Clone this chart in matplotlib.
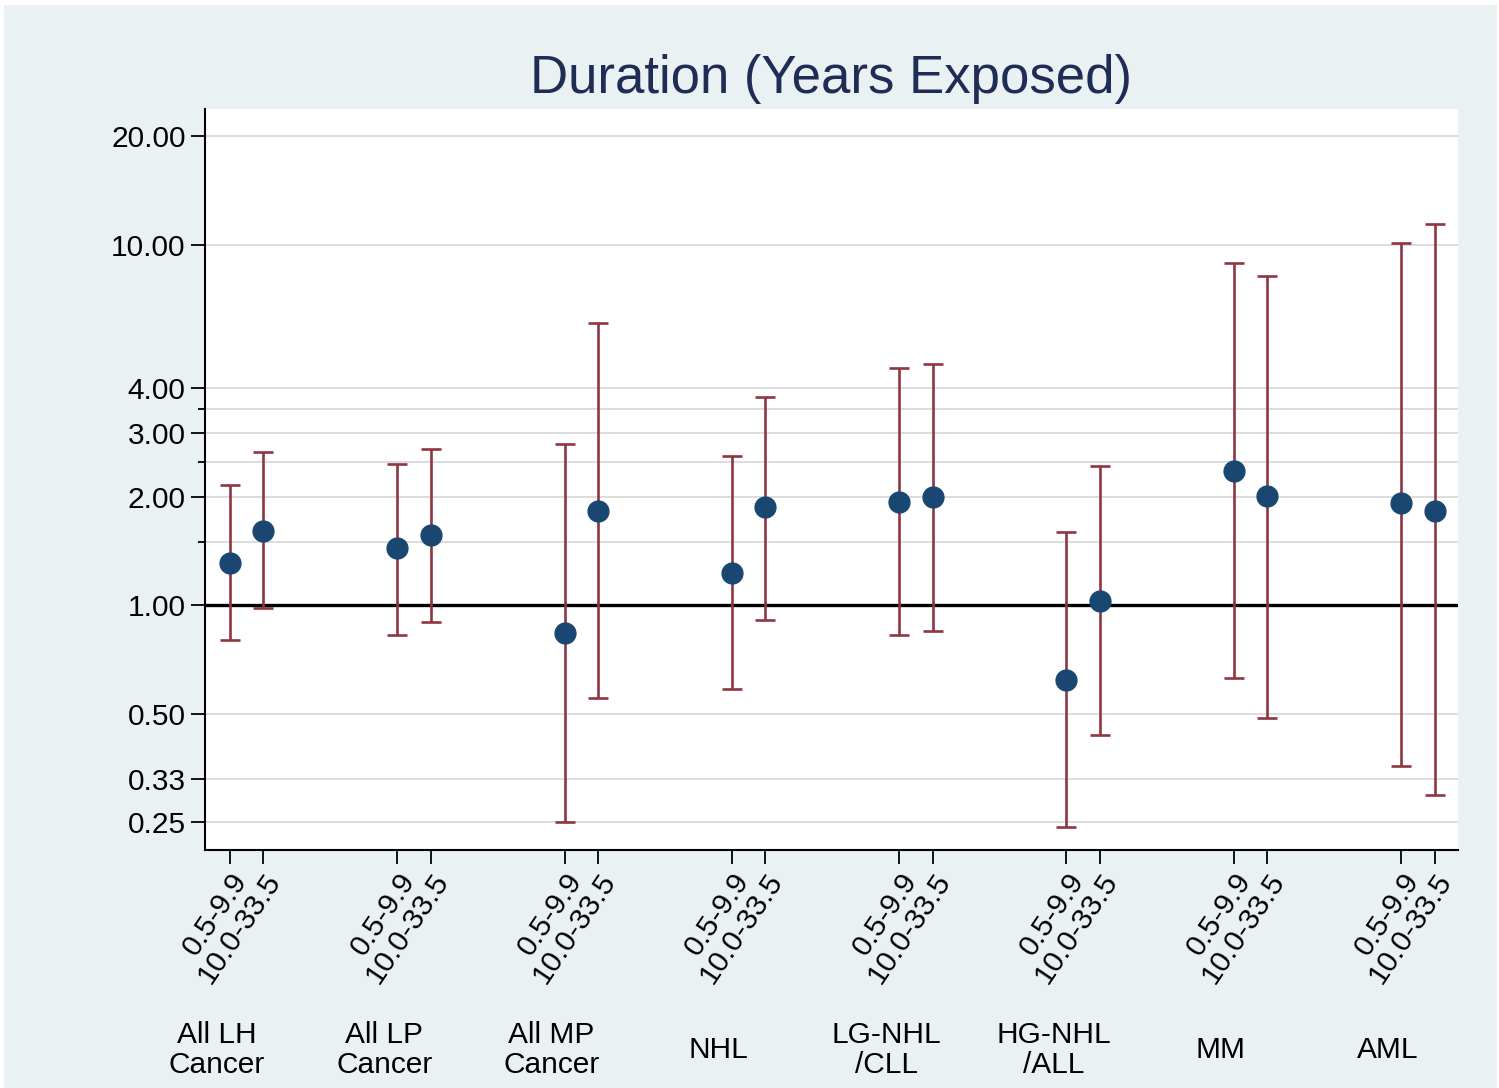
import numpy as np
import matplotlib
matplotlib.use("Agg")
import matplotlib.pyplot as plt
from matplotlib.ticker import FixedLocator, NullFormatter
from matplotlib.transforms import blended_transform_factory

# Outcome groups and exposure-duration categories
groups = ["All LH\nCancer", "All LP\nCancer", "All MP\nCancer", "NHL",
          "LG-NHL\n/CLL", "HG-NHL\n/ALL", "MM", "AML"]
durations = ["0.5-9.9", "10.0-33.5"]

# Relative risk estimates with 95% CI, first duration category
rr_short = [1.31, 1.44, 0.84, 1.23, 1.94, 0.62, 2.36, 1.92]
lo_short = [0.80, 0.83, 0.25, 0.586, 0.826, 0.243, 0.63, 0.359]
hi_short = [2.15, 2.46, 2.81, 2.59, 4.56, 1.60, 8.90, 10.10]

# Second duration category
rr_long = [1.61, 1.57, 1.83, 1.87, 2.00, 1.03, 2.01, 1.83]
lo_long = [0.98, 0.90, 0.553, 0.913, 0.847, 0.436, 0.487, 0.297]
hi_long = [2.67, 2.72, 6.08, 3.79, 4.68, 2.44, 8.17, 11.43]

y_major = [0.25, 0.33, 0.50, 1.00, 2.00, 3.00, 4.00, 10.00, 20.00]
y_minor = [1.5, 2.5, 3.5]

BG = "#EAF1F3"
NAVY = "#1A4772"
MAROON = "#8E3640"
TITLE = "#1F2C55"

plt.rcParams["font.family"] = ["Liberation Sans", "DejaVu Sans"]

fig = plt.figure(figsize=(14.99, 10.88), dpi=100, facecolor="white")
# light panel behind everything, with a thin white border
fig.patches.append(plt.Rectangle((4 / 1499, 0), 1 - 6 / 1499, 1 - 5 / 1088,
                                 transform=fig.transFigure, facecolor=BG,
                                 edgecolor="none", zorder=-10))
ax = fig.add_axes([205 / 1499, 1 - 850 / 1088, (1458 - 205) / 1499, (850 - 109) / 1088])
ax.set_facecolor("white")

n = len(groups)
gap = 0.2
x_short = np.arange(n, dtype=float)
x_long = x_short + gap

ax.set_yscale("log")
ax.set_ylim(0.2096, 23.8)
ax.set_xlim(-0.149, 7.34)

# horizontal grid
for v in y_major + y_minor:
    if v != 1.0:
        ax.axhline(v, color="#DDDDDD", lw=1.4, zorder=0)
ax.axhline(1.0, color="black", lw=2.4, zorder=1)

for xs, rr, lo, hi in [(x_short, rr_short, lo_short, hi_short),
                       (x_long, rr_long, lo_long, hi_long)]:
    rr = np.array(rr); lo = np.array(lo); hi = np.array(hi)
    ax.errorbar(xs, rr, yerr=[rr - lo, hi - rr], fmt="none", ecolor=MAROON,
                elinewidth=1.9, capsize=7.4, capthick=1.9, zorder=2)
    ax.plot(xs, rr, "o", color=NAVY, markersize=15, zorder=3)

# y axis
ax.yaxis.set_major_locator(FixedLocator(y_major))
ax.yaxis.set_minor_locator(FixedLocator(y_minor))
ax.yaxis.set_minor_formatter(NullFormatter())
ax.set_yticklabels([f"{v:.2f}" for v in y_major])
ax.tick_params(axis="y", which="major", length=10, width=1.3, labelsize=21.5, pad=4)
ax.tick_params(axis="y", which="minor", length=5, width=1.3)

# x axis
xt = np.sort(np.concatenate([x_short, x_long]))
ax.set_xticks(xt)
ax.set_xticklabels(durations * n, rotation=56, ha="right", va="top",
                   rotation_mode="anchor", fontsize=21.5)
ax.tick_params(axis="x", length=10, width=1.3, pad=3)
ax.xaxis.set_minor_locator(FixedLocator([]))

for s in ["top", "right"]:
    ax.spines[s].set_visible(False)
for s in ["left", "bottom"]:
    ax.spines[s].set_linewidth(1.5)

# group names under the rotated tick labels
trans = blended_transform_factory(ax.transData, fig.transFigure)
for i, g in enumerate(groups):
    ax.text(x_short[i] - 0.078, 1 - 1050 / 1088, g, transform=trans,
            fontsize=21.5, ha="center", va="center", linespacing=1.08,
            clip_on=False)

fig.text((205 + 1458) / 2 / 1499, 1 - 79 / 1088, "Duration (Years Exposed)",
         fontsize=38, color=TITLE, ha="center", va="center")

fig.savefig("out.png", dpi=100, facecolor="white")
